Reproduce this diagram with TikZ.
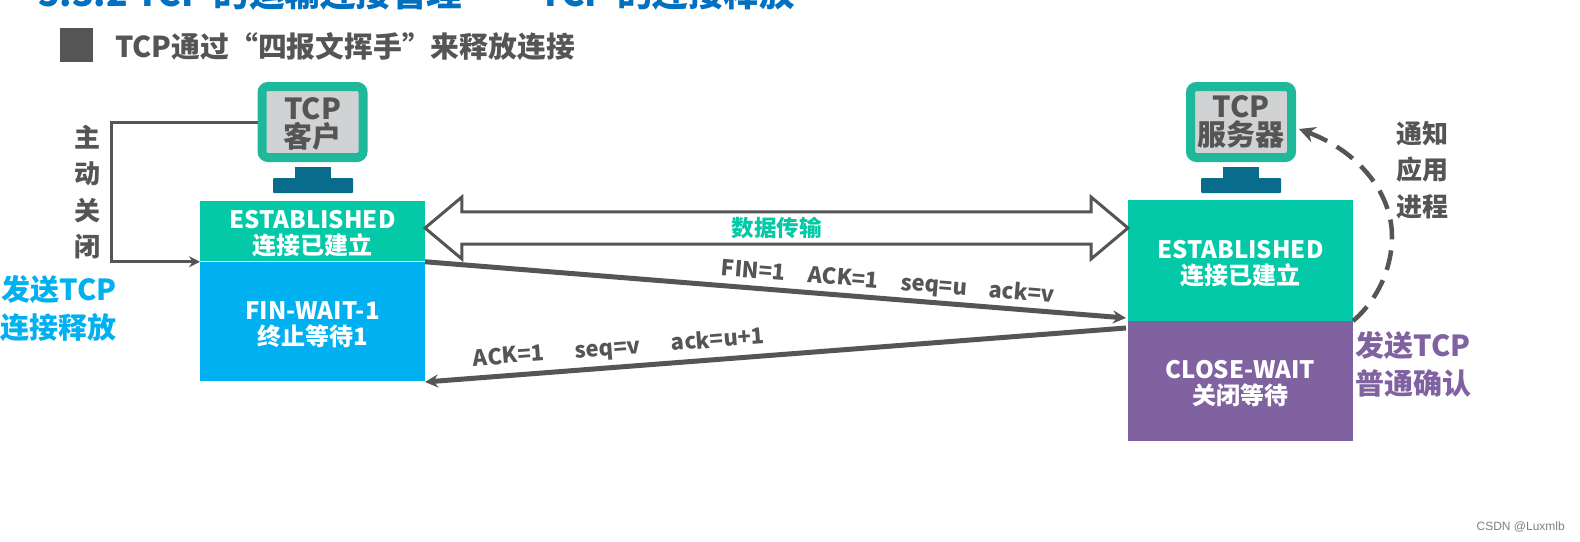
\documentclass[tikz,border=0pt]{standalone}
\usepackage{fontspec}
\setmainfont{Noto Sans CJK SC}
\newfontfamily\markfont{Liberation Sans}
\usetikzlibrary{arrows.meta,shapes.arrows}
\definecolor{tgreen}{HTML}{04C9A6}
\definecolor{tblue}{HTML}{00B0F0}
\definecolor{tpurple}{HTML}{8062A0}
\definecolor{tteal}{HTML}{1FB89A}
\definecolor{tscreen}{HTML}{D0D2D4}
\definecolor{tbase}{HTML}{0A6C8C}
\definecolor{tgray}{HTML}{555555}
\definecolor{ttitle}{HTML}{0070C0}
\newcommand{\fs}[2]{\fontsize{#1}{#2}\selectfont\bfseries}
\newcommand{\lowerblock}{\rule{0pt}{24pt}}
\tikzset{
  x=1pt,y=-1pt,
  statebox/.style={inner sep=0,outer sep=0,minimum width=225pt,text=white,align=center,font=\fs{24}{26}},
  screen/.style={draw=tteal,line width=9pt,fill=tscreen,rounded corners=6pt,inner sep=0,outer sep=4.5pt,minimum width=101pt,minimum height=71pt,text=tgray,align=center,font=\fs{29}{28}},
  stemshape/.style={fill=tbase,inner sep=0,minimum width=36pt,minimum height=12pt},
  baseshape/.style={fill=tbase,inner sep=0,minimum width=80pt,minimum height=15pt,rounded corners=1pt},
  gray label/.style={text=tgray,align=center,inner sep=0,font=\fs{26}{36.5}},
  side label/.style={align=center,inner sep=0,font=\fs{29}{38}},
  msg label/.style={text=tgray,inner sep=0,font=\fs{22}{24}},
  conn/.style={draw=tgray,line width=3pt,-{Stealth[length=11pt,width=11pt]}},
  msg/.style={draw=tgray,line width=5pt,-{Stealth[length=13pt,width=13pt]}}
}
\begin{document}
\begin{tikzpicture}
\useasboundingbox (0,0) rectangle (1580,541);
\clip (0,0) rectangle (1580,541);
\fill[white] (0,0) rectangle (1580,541);
% headings
\node[anchor=west,inner sep=0,text=ttitle,font=\fs{35.5}{40}] (title) at (38,-7) {5.3.2 TCP 的运输连接管理 —— TCP 的连接释放};
\node[fill=tgray,inner sep=0,minimum width=33pt,minimum height=34pt] (bullet) at (76.5,45) {};
\node[anchor=west,inner sep=0,text=tgray,font=\fs{28.8}{32}] (subtitle) at (115,47) {TCP通过“四报文挥手”来释放连接};
% client monitor
\node[screen] (cm) at (312.5,122) {\rule{0pt}{27pt}TCP\\客户};
\node[stemshape] (cstem) at (313,172.5) {};
\node[baseshape] (cbase) at (313,185.5) {};
% server monitor
\node[screen] (sm) at (1241,122) {TCP\\服务器};
\node[stemshape] (sstem) at (1241,172.5) {};
\node[baseshape] (sbase) at (1241,185.5) {};
% state boxes
\node[statebox,fill=tgreen,minimum height=60.5pt] (est1) at (312.5,231) {\lowerblock ESTABLISHED\\连接已建立};
\node[statebox,fill=tblue,minimum height=119.5pt] (fin) at (312.5,321.5) {\lowerblock FIN-WAIT-1\\终止等待1};
\node[statebox,fill=tgreen,minimum height=121pt] (est2) at (1240.5,260.5) {\lowerblock ESTABLISHED\\连接已建立};
\node[statebox,fill=tpurple,minimum height=120pt] (cw) at (1240.5,381) {\lowerblock CLOSE-WAIT\\关闭等待};
% data transfer double arrow
\node[double arrow,draw=tgray,line width=3pt,fill=white,inner sep=0,outer sep=0,
  minimum height=703pt,minimum width=62pt,double arrow head extend=11.5pt,
  double arrow tip angle=80,text=tgreen,font=\fs{22.5}{24}] (data) at (776.5,228) {数据传输};
% labels
\node[gray label] (active) at (87,192) {主\\动\\关\\闭};
\node[gray label] (notify) at (1422,170) {通知\\应用\\进程};
\node[side label,text=tblue] (sendfin) at (59,309) {发送TCP\\连接释放};
\node[side label,text=tpurple] (sendack) at (1413,364) {发送TCP\\普通确认};
% active close
\draw[conn] (cm.west) -- ++(-146,0) |- (fin.north west);
% messages
\coordinate (finend) at (1126,318);
\coordinate (ackstart) at (1126,328);
\coordinate (ackend) at (425,382);
\draw[msg] (fin.north east) -- (finend);
\draw[msg] (ackstart) -- (ackend);
\node[msg label,rotate=-4.6] (finlabel) at (888,282.5) {FIN=1\hspace{1em}ACK=1\hspace{1em}seq=u\hspace{1em}ack=v};
\node[msg label,rotate=4.4] (acklabel) at (619,348.5) {ACK=1\hspace{1.4em}seq=v\hspace{1.4em}ack=u+1};
% notify application
\coordinate (notifyend) at (1299,129);
\draw[draw=tgray,line width=4.5pt,dash pattern=on 20pt off 11pt,-{Stealth[length=16pt,width=16pt]}]
  (cw.north east) .. controls (1382,296) and (1392,262) .. (1392,237)
  .. controls (1392,190) and (1355,150) .. (notifyend);
% watermark
\node[anchor=east,inner sep=0,text=gray,font=\markfont\fontsize{12}{14}\selectfont] (mark) at (1565,527) {CSDN @Luxmlb};
\end{tikzpicture}
\end{document}
